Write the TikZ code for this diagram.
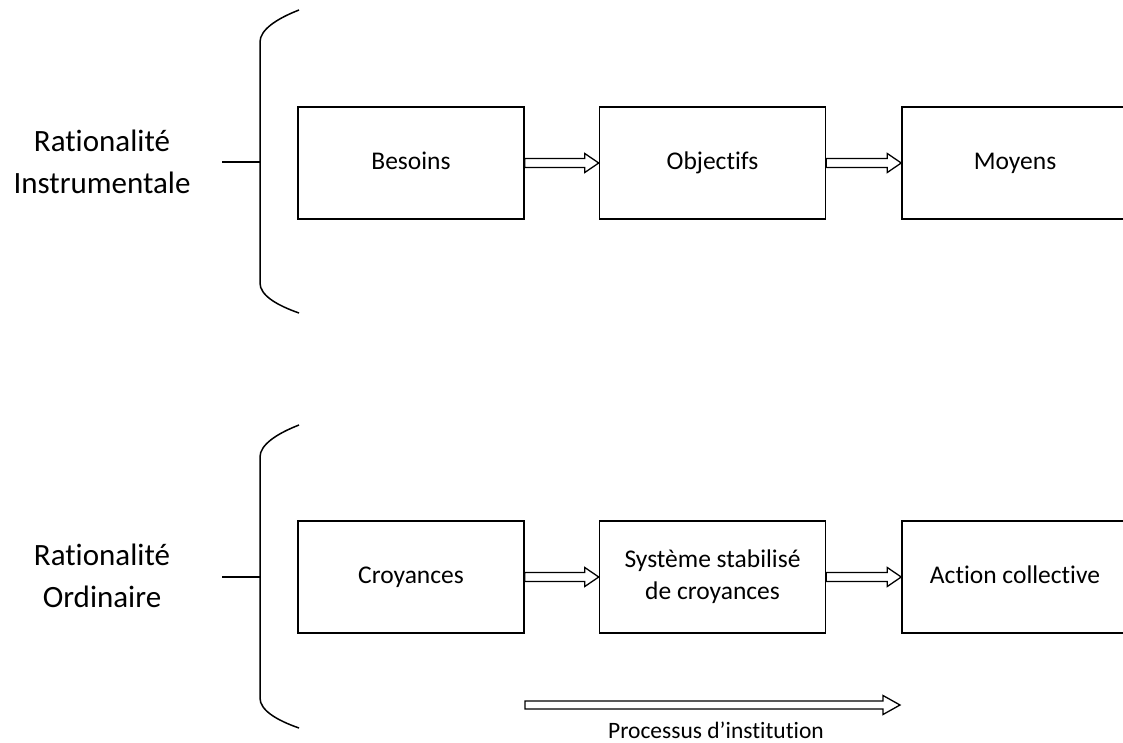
\documentclass[tikz,border=0pt]{standalone}
\usepackage{fontspec}
\setmainfont{Carlito}[Ligatures={NoCommon}]
\usetikzlibrary{calc}
\tikzset{
  box/.style={draw, line width=1.5pt, minimum width=226pt, minimum height=112pt, inner sep=0pt, align=center, font=\fontsize{25.5}{32}\selectfont},
  lbl/.style={align=center, font=\fontsize{31}{42}\selectfont},
  brk/.style={line width=1.5pt},
  hollow/.style={draw, line width=1.3pt, fill=white, line join=miter}
}
\newcommand\blockarrow[2]{%
  \draw[hollow] ($(#1.east)+(0,-4.5)$) -- ($(#2.west)+(-14,-4.5)$) -- ($(#2.west)+(-14,-9.5)$) -- (#2.west)
    -- ($(#2.west)+(-14,9.5)$) -- ($(#2.west)+(-14,4.5)$) -- ($(#1.east)+(0,4.5)$) -- cycle;}
\begin{document}
\begin{tikzpicture}[x=1pt,y=-1pt]
\useasboundingbox (0,0) rectangle (1123,743);
\clip (0,0) rectangle (1123,743);
% top row
\node[box] (bes) at (411,163) {\strut Besoins};
\node[box] (obj) at (712.5,163) {\strut Objectifs};
\node[box] (moy) at (1015,163) {\strut Moyens};
\blockarrow{bes}{obj}
\blockarrow{obj}{moy}
% bottom row
\node[box] (cro) at (411,577) {\strut Croyances};
\node[box] (sys) at (712.5,577) {\strut Système stabilisé\\\strut de croyances};
\node[box] (act) at (1015,577) {\strut Action collective};
\blockarrow{cro}{sys}
\blockarrow{sys}{act}
% labels
\node[lbl] (ri) at (102,164) {\strut Rationalité\\\strut Instrumentale};
\node[lbl] (ro) at (102,578) {\strut Rationalité\\\strut Ordinaire};
% brackets
\coordinate (t1) at (222,162);
\coordinate (t2) at (260,162);
\draw[brk] (299,10) .. controls (276,19) and (260,30) .. (260,42) -- (260,283) .. controls (260,295) and (276,305) .. (299,313);
\draw[brk] (t1) -- (t2);
\coordinate (b1) at (222,577);
\coordinate (b2) at (260,577);
\draw[brk] (299,425) .. controls (276,434) and (260,445) .. (260,457) -- (260,698) .. controls (260,710) and (276,720) .. (299,728);
\draw[brk] (b1) -- (b2);
% process arrow
\coordinate (ps) at (525,705);
\coordinate (pe) at (900,705);
\draw[hollow] ($(ps)+(0,-4)$) -- ($(pe)+(-17,-4)$) -- ($(pe)+(-17,-9.5)$) -- (pe) -- ($(pe)+(-17,9.5)$) -- ($(pe)+(-17,4)$) -- ($(ps)+(0,4)$) -- cycle;
\node[font=\fontsize{23.5}{28}\selectfont, anchor=base, inner sep=1pt] (pl) at (716,738) {Processus d’institution};
\end{tikzpicture}
\end{document}
